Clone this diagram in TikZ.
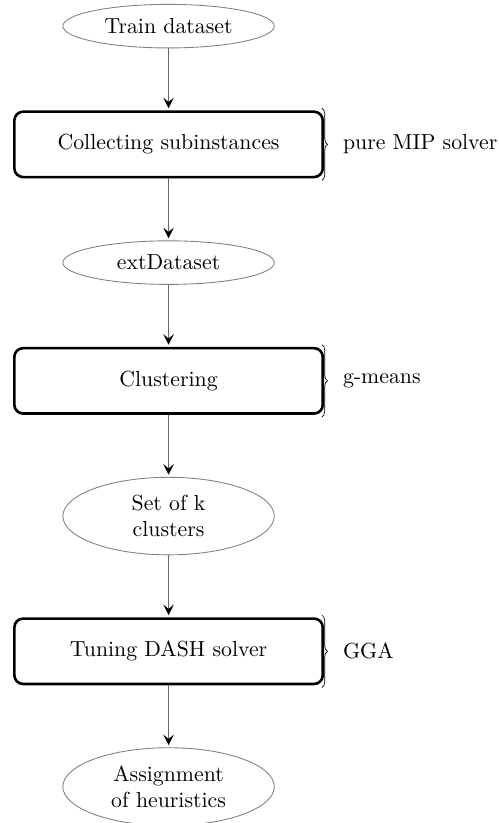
\documentclass[tikz,border=0pt]{standalone}
\usepackage{tikz}
\usetikzlibrary{arrows.meta, positioning, calc, shapes.geometric, decorations.pathreplacing}
\tikzset{
  proc/.style  = {draw=black, rectangle, rounded corners=4pt, very thick, align=center,
                  minimum width=141.5pt, minimum height=30pt},
  data/.style  = {draw=black!50, ellipse, align=center, minimum width=97pt,
                  minimum height=20pt, inner sep=3pt},
  fl/.style    = {draw=black!60, -{Stealth[color=black, length=1.7mm, width=1.7mm, inset=0.7mm]},
                  line width=0.5pt, shorten >=1pt},
  brc/.style   = {decorate, decoration={brace, amplitude=2.6pt}, draw=black, line width=0.3pt},
  note/.style  = {anchor=west, inner sep=3pt},
}
\begin{document}
\begin{tikzpicture}[node distance=1cm]
\node[data] (train) {Train dataset};
\node[proc, below=of train] (coll) {Collecting subinstances};
\node[data, below=of coll] (ext) {extDataset};
\node[proc, below=of ext] (clus) {Clustering};
\node[data, below=of clus] (kset) {Set of k\\clusters};
\node[proc, below=of kset] (tune) {Tuning DASH solver};
\node[data, below=of tune] (assign) {Assignment\\of heuristics};
\draw[fl] (train)--(coll);
\draw[fl] (coll)--(ext);
\draw[fl] (ext)--(clus);
\draw[fl] (clus)--(kset);
\draw[fl] (kset)--(tune);
\draw[fl] (tune)--(assign);
% braces with the tools used
\draw[brc] ([xshift=-1pt,yshift=1pt]coll.north east)--([xshift=-1pt,yshift=-1pt]coll.south east);
\node[note] (mip) at ([xshift=5.5pt]coll.east) {pure MIP solver};
\draw[brc] ([xshift=-1pt,yshift=1pt]clus.north east)--([xshift=-1pt,yshift=-1pt]clus.south east);
\node[note] (gmeans) at ([xshift=5.5pt]clus.east) {g-means};
\draw[brc] ([xshift=-1pt,yshift=1pt]tune.north east)--([xshift=-1pt,yshift=-1pt]tune.south east);
\node[note] (gga) at ([xshift=5.5pt]tune.east) {GGA};
\pgfresetboundingbox
\path[use as bounding box] ($(train.north -| coll.west)+(-6pt,1.8pt)$)
  rectangle ($(assign.south -| mip.east)+(-2.5pt,1.4pt)$);
\end{tikzpicture}
\end{document}
